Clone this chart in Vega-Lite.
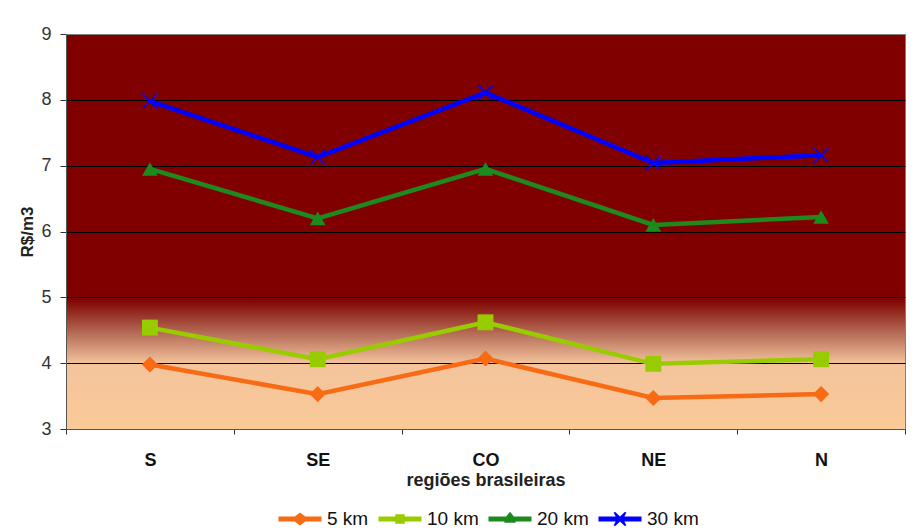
{
  "$schema": "https://vega.github.io/schema/vega-lite/v6.json",
  "autosize": "none",
  "width": 839,
  "height": 395,
  "padding": {"left": 66, "top": 34, "right": 14, "bottom": 102},
  "background": "white",
  "config": {"font": "Liberation Sans"},
  "view": {
    "stroke": "#808080",
    "fill": {
      "gradient": "linear", "x1": 0, "y1": 0, "x2": 0, "y2": 1,
      "stops": [
        {"offset": 0, "color": "#800000"},
        {"offset": 0.667, "color": "#800000"},
        {"offset": 0.69, "color": "#8a1a12"},
        {"offset": 0.76, "color": "#b8705a"},
        {"offset": 0.833, "color": "#f3c39c"},
        {"offset": 1, "color": "#fbca98"}
      ]
    }
  },
  "data": {
    "values": [
      {"regiao": "S", "serie": "5 km", "valor": 3.98},
      {"regiao": "SE", "serie": "5 km", "valor": 3.53},
      {"regiao": "CO", "serie": "5 km", "valor": 4.07},
      {"regiao": "NE", "serie": "5 km", "valor": 3.47},
      {"regiao": "N", "serie": "5 km", "valor": 3.53},
      {"regiao": "S", "serie": "10 km", "valor": 4.54},
      {"regiao": "SE", "serie": "10 km", "valor": 4.06},
      {"regiao": "CO", "serie": "10 km", "valor": 4.62},
      {"regiao": "NE", "serie": "10 km", "valor": 3.99},
      {"regiao": "N", "serie": "10 km", "valor": 4.06},
      {"regiao": "S", "serie": "20 km", "valor": 6.95},
      {"regiao": "SE", "serie": "20 km", "valor": 6.2},
      {"regiao": "CO", "serie": "20 km", "valor": 6.95},
      {"regiao": "NE", "serie": "20 km", "valor": 6.1},
      {"regiao": "N", "serie": "20 km", "valor": 6.22},
      {"regiao": "S", "serie": "30 km", "valor": 7.98},
      {"regiao": "SE", "serie": "30 km", "valor": 7.13},
      {"regiao": "CO", "serie": "30 km", "valor": 8.11},
      {"regiao": "NE", "serie": "30 km", "valor": 7.04},
      {"regiao": "N", "serie": "30 km", "valor": 7.16}
    ]
  },
  "encoding": {
    "x": {
      "field": "regiao", "type": "nominal",
      "sort": ["S", "SE", "CO", "NE", "N"],
      "scale": {"type": "band", "paddingInner": 0, "paddingOuter": 0},
      "title": "regiões brasileiras",
      "axis": {
        "labelAngle": 0, "labelFontSize": 18, "labelFontWeight": "bold", "labelColor": "#111",
        "tickBand": "extent", "tickSize": 5, "tickColor": "#333", "labelPadding": 17,
        "domainColor": "#555", "titleFontSize": 18, "titleFontWeight": "bold", "titleColor": "#222",
        "titlePadding": 2, "grid": false
      }
    },
    "y": {
      "field": "valor", "type": "quantitative",
      "scale": {"domain": [3, 9], "nice": false, "zero": false},
      "title": "R$/m3",
      "axis": {
        "values": [3, 4, 5, 6, 7, 8, 9],
        "labelFontSize": 18, "labelColor": "#333", "tickSize": 6, "tickColor": "#333",
        "labelPadding": 9, "domainColor": "#555",
        "grid": true,
        "gridColor": {"condition": {"test": "datum.value == 9", "value": "transparent"}, "value": "#000000"},
        "gridWidth": 1,
        "titleFontSize": 17, "titleFontWeight": "bold", "titleColor": "#222", "titlePadding": 4
      }
    },
    "color": {
      "field": "serie", "type": "nominal",
      "scale": {"domain": ["5 km", "10 km", "20 km", "30 km"], "range": ["#f76b15", "#99cc00", "#1e8a1e", "#0000ff"]},
      "legend": null
    }
  },
  "layer": [
    {
      "mark": {"type": "line", "strokeWidth": 4.5}
    },
    {
      "mark": {"type": "point", "filled": true, "opacity": 1, "strokeWidth": 0},
      "encoding": {
        "shape": {
          "field": "serie", "type": "nominal",
          "scale": {"domain": ["5 km", "10 km", "20 km", "30 km"], "range": ["diamond", "square", "triangle-up", "M-1,-0.85L-0.85,-1L0,-0.15L0.85,-1L1,-0.85L0.15,0L1,0.85L0.85,1L0,0.15L-0.85,1L-1,0.85L-0.15,0Z"]},
          "legend": null
        },
        "size": {
          "field": "serie", "type": "ordinal",
          "scale": {"domain": ["5 km", "10 km", "20 km", "30 km"], "range": [260, 240, 340, 230]},
          "legend": null
        }
      }
    },
    {
      "mark": {"type": "point", "filled": true, "size": 0, "strokeWidth": 0},
      "encoding": {
        "color": {
          "field": "serie", "type": "nominal",
          "legend": {
            "orient": "none", "legendX": 212, "legendY": 463, "direction": "horizontal", "title": null,
            "labelFontSize": 19, "labelColor": "#111", "symbolSize": 1850, "symbolStrokeWidth": 0,
            "symbolOpacity": 1, "labelOffset": 5, "columnPadding": 9
          }
        },
        "shape": {
          "field": "serie", "type": "nominal",
          "scale": {"domain": ["5 km", "10 km", "20 km", "30 km"], "range": [
            "M-1,-0.12H-0.24L0,-0.3L0.24,-0.12H1V0.12H0.24L0,0.3L-0.24,0.12H-1Z",
            "M-1,-0.12H-0.22V-0.22H0.22V-0.12H1V0.12H0.22V0.22H-0.22V0.12H-1Z",
            "M-1,-0.12H-0.18L0,-0.34L0.18,-0.12H1V0.12H0.26V0.18H-0.26V0.12H-1Z",
            "M-1,-0.12H-0.2L-0.3,-0.3L-0.22,-0.32L0,-0.12L0.22,-0.32L0.3,-0.3L0.2,-0.12H1V0.12H0.2L0.3,0.3L0.22,0.32L0,0.12L-0.22,0.32L-0.3,0.3L-0.2,0.12H-1Z"
          ]},
          "legend": {
            "orient": "none", "legendX": 212, "legendY": 463, "direction": "horizontal", "title": null,
            "labelFontSize": 19, "labelColor": "#111", "symbolSize": 1850, "symbolStrokeWidth": 0,
            "symbolOpacity": 1, "labelOffset": 5, "columnPadding": 9
          }
        }
      }
    }
  ],
  "resolve": {
    "scale": {"shape": "independent", "size": "independent"},
    "legend": {"color": "independent", "shape": "independent"}
  }
}
